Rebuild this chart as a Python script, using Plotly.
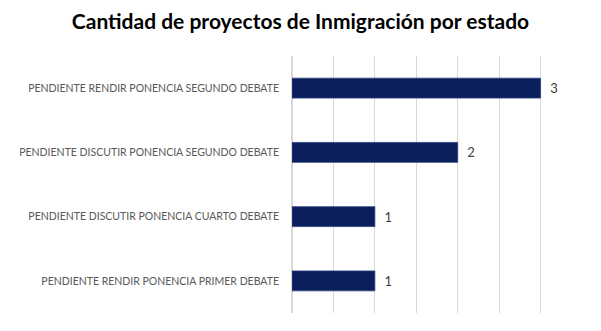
import plotly.graph_objects as go

categories = [
    "PENDIENTE RENDIR PONENCIA PRIMER DEBATE",
    "PENDIENTE DISCUTIR PONENCIA CUARTO DEBATE",
    "PENDIENTE DISCUTIR PONENCIA SEGUNDO DEBATE",
    "PENDIENTE RENDIR PONENCIA SEGUNDO DEBATE",
]
values = [1, 1, 2, 3]
title = "Cantidad de proyectos de Inmigración por estado"

fig = go.Figure(go.Bar(
    x=values, y=categories, orientation="h",
    marker=dict(color="#0B1F5C", line=dict(color="#2E4380", width=0.8)),
    texttemplate="  %{x}", textposition="outside",
    outsidetextfont=dict(family="Lato", size=13, color="#404040"),
    cliponaxis=False,
))
fig.update_layout(
    width=601, height=331,
    margin=dict(l=292, r=19, t=56, b=18),
    paper_bgcolor="white", plot_bgcolor="white",
    title=dict(text="<b>" + title + "</b>", x=0.5, xanchor="center", y=0.935, yanchor="middle",
               font=dict(family="Lato", size=21, color="#000000")),
    bargap=0.69,
    showlegend=False,
)
fig.update_xaxes(range=[0, 3.5], dtick=0.5, showticklabels=False, showgrid=True,
                 gridcolor="#D9D9D9", gridwidth=1, zeroline=True, zerolinecolor="#D9D9D9",
                 ticks="", showline=False)
fig.update_yaxes(tickfont=dict(family="Lato", size=10.5, color="#595959"), ticks="",
                 ticklabelstandoff=12, showline=False, showgrid=False)
fig.write_html("out.html")
